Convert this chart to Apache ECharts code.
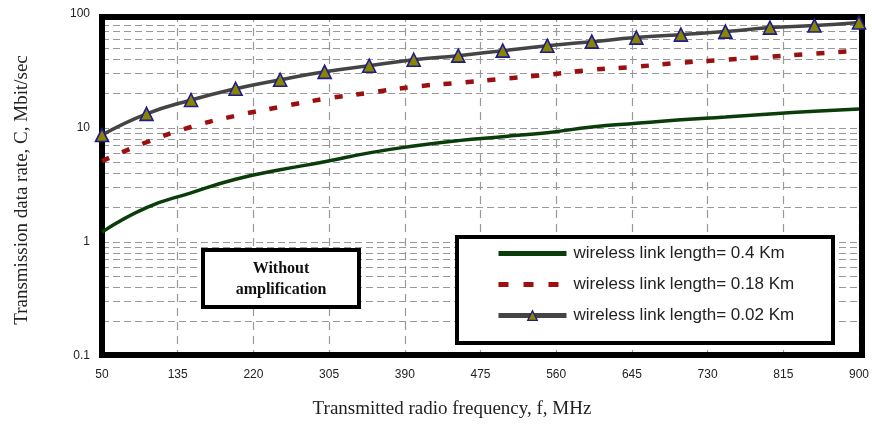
<!DOCTYPE html>
<html>
<head>
<meta charset="utf-8">
<script src="https://cdn.jsdelivr.net/npm/echarts@6/dist/echarts.min.js"></script>
<style>
html,body{margin:0;padding:0;background:#fff;}
#chart{width:872px;height:425px;}
</style>
</head>
<body>
<div id="chart"></div>
<script>
// ---- data ----
const freq = [50,100,150,200,250,300,350,400,450,500,550,600,650,700,750,800,850,900];
const rate04  = [1.22, 2.0, 2.7, 3.55, 4.3, 5.05, 6.05, 6.95, 7.75, 8.4, 9.1, 10.2, 11.0, 11.8, 12.5, 13.3, 14.0, 14.7];
const rate018 = [5.12, 7.5, 10.2, 12.8, 15.3, 18.0, 20.4, 23.0, 24.9, 27.0, 29.3, 32.4, 34.5, 37.4, 39.7, 42.2, 44.9, 47.7];
const rate002 = [8.67, 13.3, 17.6, 22.1, 26.5, 31.1, 35.2, 39.7, 43.1, 47.7, 52.7, 57.2, 62.1, 65.9, 70.1, 76.0, 79.2, 84.2];
const seriesNames = ['wireless link length= 0.4 Km','wireless link length= 0.18 Km','wireless link length= 0.02 Km'];
const xTickStart = 50, xTickEnd = 900, xTickStep = 85;
const yMin = 0.1, yMax = 100;
const minorGrid = [0.2,0.3,0.4,0.5,0.6,0.7,0.8,0.9, 2,3,4,5,6,7,8,9, 20,30,40,50,60,70,80,90];
const xTitle = 'Transmitted radio frequency, f, MHz';
const yTitle = 'Transmission data rate, C, Mbit/sec';
const noteLines = ['Without', 'amplification'];

const pair = arr => freq.map((f,i)=>[f, arr[i]]);
const gridL = 102, gridT = 14, gridW = 760, gridH = 342;

const chart = echarts.init(document.getElementById('chart'), null, {renderer:'canvas'});
const option = {
  animation:false,
  backgroundColor:'#fff',
  grid:{left:gridL, top:gridT, width:gridW, height:gridH, containLabel:false},
  xAxis:{
    type:'value', min:xTickStart, max:xTickEnd, interval:xTickStep,
    axisLine:{show:false}, axisTick:{show:false},
    axisLabel:{margin:13, fontSize:12, color:'#222', fontFamily:'Liberation Sans, Arial, sans-serif'},
    splitLine:{show:true, lineStyle:{color:'#999', width:1.2, type:[8,6]}}
  },
  yAxis:{
    type:'log', logBase:10, min:yMin, max:yMax,
    axisLine:{show:false}, axisTick:{show:false},
    axisLabel:{margin:12, fontSize:12, color:'#222', fontFamily:'Liberation Sans, Arial, sans-serif',
      formatter:v=>String(+v.toPrecision(3))},
    splitLine:{show:true, lineStyle:{color:'#999', width:1.2, type:[7,4]}}
  },
  legend:{
    orient:'vertical', left:496, top:245, padding:0,
    itemWidth:68, itemHeight:12, itemGap:14,
    textStyle:{fontSize:17, color:'#222', fontFamily:'Liberation Sans, Arial, sans-serif', padding:[0,0,0,2]},
    z:10,
    data:[
      {name:seriesNames[0], lineStyle:{width:5}, itemStyle:{opacity:0}},
      {name:seriesNames[1], lineStyle:{width:5, type:[10,15]}, itemStyle:{opacity:0}},
      {name:seriesNames[2], lineStyle:{width:5}, itemStyle:{borderWidth:1.3}}
    ]
  },
  series:[
    {
      name:seriesNames[0], type:'line', data:pair(rate04), smooth:true,
      symbol:'none', lineStyle:{color:'#0b3d0b', width:3.5}, itemStyle:{color:'#0b3d0b'}, z:3,
      markLine:{
        silent:true, symbol:'none', z:0.5, animation:false,
        label:{show:false},
        lineStyle:{color:'#999', width:1.2, type:[7,4]},
        emphasis:{disabled:true},
        data:minorGrid.map(v=>({yAxis:v}))
      }
    },
    {
      name:seriesNames[1], type:'line', data:pair(rate018), smooth:true,
      symbol:'none', lineStyle:{color:'#9b0f0f', width:4.5, type:[8,14]}, itemStyle:{color:'#9b0f0f'}, z:3
    },
    {
      name:seriesNames[2], type:'line', data:pair(rate002), smooth:true,
      symbol:'triangle', symbolSize:13, showAllSymbol:true,
      lineStyle:{color:'#444', width:3.5},
      itemStyle:{color:'#8a8400', borderColor:'#1c1c8c', borderWidth:1.6}, z:4
    }
  ],
  graphic:[
    // plot frame
    {type:'rect', z:2, silent:true,
     shape:{x:gridL, y:17, width:gridW, height:338},
     style:{fill:null, stroke:'#000', lineWidth:6}},
    // legend box
    {type:'rect', z:6, silent:true,
     shape:{x:457, y:237, width:376, height:106},
     style:{fill:'#fff', stroke:'#000', lineWidth:4}},
    // note box
    {type:'rect', z:6, silent:true,
     shape:{x:203, y:250, width:156, height:57},
     style:{fill:'#fff', stroke:'#000', lineWidth:4}},
    {type:'text', z:7, silent:true, x:281, y:279,
     style:{text:noteLines.join('\n'), fontSize:16, fontWeight:'bold', lineHeight:21,
       fontFamily:'Liberation Serif, Times New Roman, serif', fill:'#111',
       align:'center', verticalAlign:'middle'}},
    // axis titles
    {type:'text', z:7, silent:true, x:452, y:409,
     style:{text:xTitle, fontSize:19, fontFamily:'Liberation Serif, Times New Roman, serif', fill:'#222',
       align:'center', verticalAlign:'middle'}},
    {type:'text', z:7, silent:true, x:22, y:190, rotation:Math.PI/2,
     style:{text:yTitle, fontSize:19, fontFamily:'Liberation Serif, Times New Roman, serif', fill:'#222',
       align:'center', verticalAlign:'middle'}}
  ]
};
chart.setOption(option);
</script>
</body>
</html>
